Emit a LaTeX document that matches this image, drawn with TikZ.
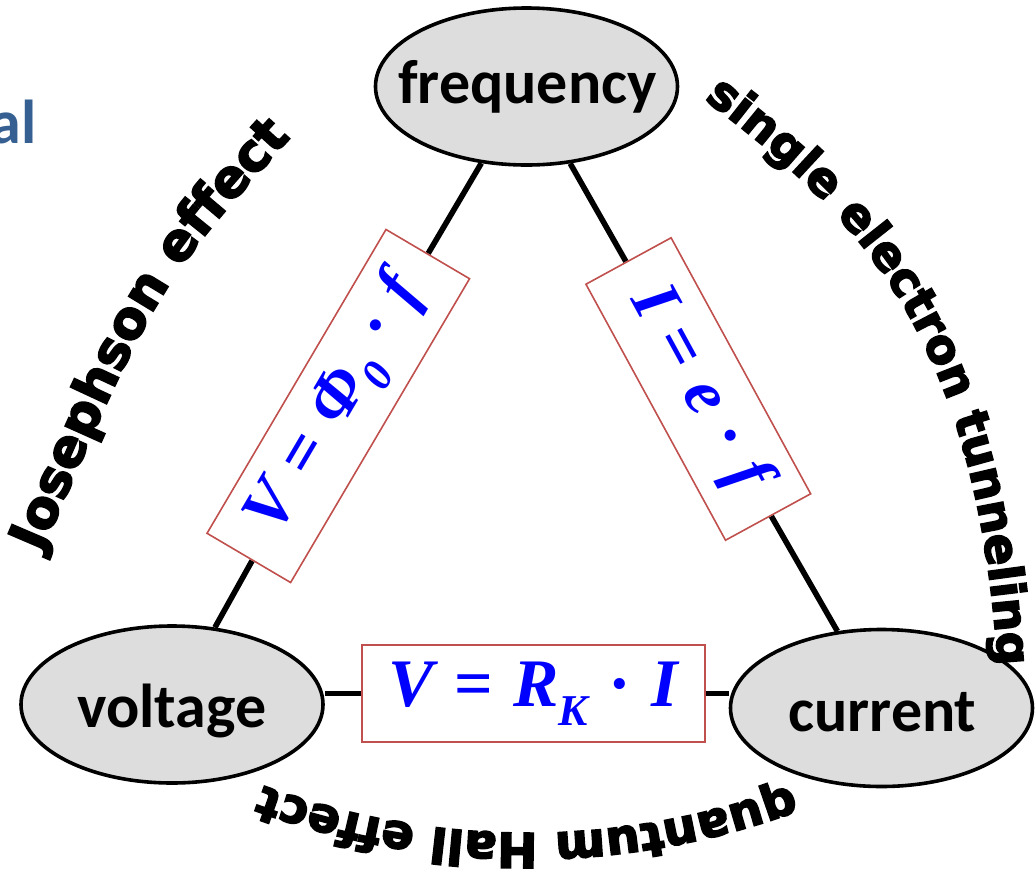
\documentclass[tikz,border=0pt]{standalone}
\usepackage{fontspec}
\newfontfamily\calibri{Carlito}
\newfontfamily\heavyfont{DejaVu Sans}[BoldFeatures={FakeBold=3.5}]
\newfontfamily\formfont{Liberation Serif}
\usetikzlibrary{shapes.geometric,decorations.text}
\pgfdeclarelayer{background}
\pgfsetlayers{background,main}
\definecolor{ellfill}{RGB}{221,221,221}
\definecolor{boxred}{RGB}{192,80,77}
\definecolor{titleblue}{RGB}{55,96,146}
\definecolor{formblue}{RGB}{0,0,255}
\newcommand{\up}[1]{\hspace{0.3em}{\upshape #1}\hspace{0.3em}}
\newcommand{\lowsub}[1]{\raisebox{-0.28em}{\fontsize{22}{24}\selectfont #1}}
\tikzset{
  qty/.style={ellipse, draw=black, line width=1.8pt, fill=ellfill,
    minimum width=151pt, minimum height=78.5pt, inner sep=0pt},
  qlabel/.style={anchor=base, inner sep=0pt, font=\calibri\bfseries\fontsize{31}{36}\selectfont},
  conn/.style={line width=2.8pt, draw=black},
  fbox/.style={draw=boxred, line width=0.8pt, fill=white, minimum height=48.5pt,
    inner sep=0pt, text=formblue, font=\formfont\bfseries\itshape\fontsize{34}{36}\selectfont},
}
\begin{document}
\begin{tikzpicture}[x=0.5pt,y=-0.5pt]
\useasboundingbox (0,0) rectangle (1035,885);
\clip (0,0) rectangle (1035,885);

% partial title text
\node[anchor=base east, inner sep=0pt, text=titleblue,
  font=\calibri\bfseries\fontsize{31}{36}\selectfont] (al) at (37,143) {al};

% quantity ellipses
\node[qty] (f) at (526.5,86.5) {};
\node[qty] (v) at (172,704.5) {};
\node[qty] (c) at (881.5,708) {};
\node[qlabel] (fl) at (527.5,103) {frequency};
\node[qlabel] (vl) at (172,727) {voltage};
\node[qlabel] (cl) at (882.5,731) {current};

% formula boxes
\node[fbox, minimum width=176.3pt, rotate=59.5] (b1) at (338.3,406) {V\up{=}Φ\lowsub{0}\up{·}f};
\node[fbox, minimum width=145.8pt, rotate=-61.4] (b2) at (698.3,389) {I\up{=}e\up{·}f};
\node[fbox, minimum width=171.6pt] (b3) at (533.3,693.3) {V\up{=}R\lowsub{K}\up{·}I};

% connectors
\begin{pgfonlayer}{background}
\draw[conn] (f) -- (b1);
\draw[conn] (b1) -- (v);
\draw[conn] (f) -- (b2);
\draw[conn] (b2) -- (c);
\draw[conn] (v.east |- b3.west) -- (b3.west);
\draw[conn] (b3.east) -- (c.west |- b3.east);
\end{pgfonlayer}

% curved effect names
\path[decorate, decoration={text along path, text align=center,
  text={|\heavyfont\bfseries\fontsize{26}{26}\selectfont|Josephson effect}}]
  (31,577) .. controls (156,285) .. (308.5,118);
\path[decorate, decoration={text along path, text align=center,
  text={|\heavyfont\bfseries\fontsize{23.5}{24}\selectfont|single electron tunneling}}]
  (688,87) .. controls (846.6,205.9) and (980.7,320.4) .. (999,686);
\path[decorate, decoration={text along path, text align=center,
  text={|\heavyfont\bfseries\fontsize{24}{24}\selectfont|quantum Hall effect}}]
  (527,75) ++(66:758) arc[start angle=66, end angle=114, radius=758];
\end{tikzpicture}
\end{document}
